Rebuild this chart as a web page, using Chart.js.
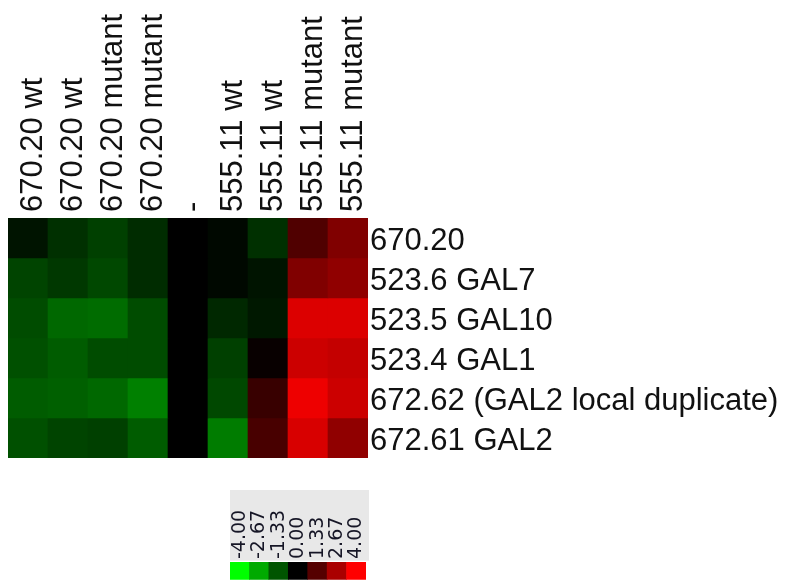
<!DOCTYPE html>
<html>
<head>
<meta charset="utf-8">
<script src="https://cdn.jsdelivr.net/npm/chart.js@4.4.0/dist/chart.umd.min.js"></script>
<style>
    html, body { margin: 0; padding: 0; background: #fff; }
    #wrap { position: relative; width: 796px; height: 582px; overflow: hidden; }
    #heatmap { position: absolute; left: 0; top: 0; }
    #colorScale { position: absolute; left: 230px; top: 488px; }
</style>
</head>
<body>
<div id="wrap">
    <canvas id="heatmap" width="796" height="582"></canvas>
    <canvas id="colorScale" width="142" height="94"></canvas>
</div>
<script>
// Samples (columns) and genes (rows)
const samples = ['670.20 wt', '670.20 wt', '670.20 mutant', '670.20 mutant', '-',
                 '555.11 wt', '555.11 wt', '555.11 mutant', '555.11 mutant'];
const genes = ['670.20', '523.6 GAL7', '523.5 GAL10', '523.4 GAL1',
               '672.62 (GAL2 local duplicate)', '672.61 GAL2'];

// Log ratios per gene, one value per sample
const row670_20 = [-0.31, -0.75, -1.00, -0.69, 0, -0.13, -0.75, 1.25, 2.01];
const rowGAL7   = [-1.07, -0.88, -1.13, -0.69, 0, -0.13, -0.31, 2.01, 2.26];
const rowGAL10  = [-1.19, -1.63, -1.69, -1.19, 0, -0.63, -0.38, 3.45, 3.45];
const rowGAL1   = [-1.25, -1.44, -1.19, -1.19, 0, -1.00, 0.13, 3.20, 3.07];
const row672_62 = [-1.44, -1.51, -1.63, -2.01, 0, -1.13, 0.88, 3.73, 3.20];
const rowGAL2   = [-1.25, -1.07, -1.00, -1.44, 0, -1.95, 1.13, 3.39, 2.26];
const geneRows = [row670_20, rowGAL7, rowGAL10, rowGAL1, row672_62, rowGAL2];

// Colour scale steps
const scaleSteps = [-4.00, -2.67, -1.33, 0.00, 1.33, 2.67, 4.00];
const scaleMax = 4;

const labelFont = { family: 'Liberation Sans, Arial, sans-serif', size: 31 };

function colorFor(v) {
    const level = Math.round(Math.min(Math.abs(v) / scaleMax, 1) * 255);
    return v < 0 ? `rgb(0,${level},0)` : `rgb(${level},0,0)`;
}

// Fix an axis box to an exact size and drop the extra label padding
function fixBox(width, height) {
    return function (scale) {
        if (width !== null) scale.width = width;
        if (height !== null) scale.height = height;
        scale.paddingLeft = 0;
        scale.paddingRight = 0;
        scale.paddingTop = 0;
        scale.paddingBottom = 0;
    };
}

// Grey box behind the colour scale labels
const scaleBackground = {
    id: 'scaleBackground',
    beforeDraw(chart) {
        const x = chart.scales.x;
        const ctx = chart.ctx;
        ctx.save();
        ctx.fillStyle = '#e8e8e8';
        ctx.fillRect(x.left, x.top, x.width + 3, x.height - 1.3);
        ctx.restore();
    }
};

const Heatmap = {
    chart: null,
    legend: null,

    init() {
        this.drawMatrix();
        this.drawScale();
    },

    drawMatrix() {
        const datasets = geneRows.map((vals, i) => ({
            label: genes[i],
            data: vals.map(() => 1),
            backgroundColor: vals.map(colorFor),
            borderWidth: 0,
            barPercentage: 1,
            categoryPercentage: 1,
            stack: 'cells'
        }));

        this.chart = new Chart(document.getElementById('heatmap'), {
            type: 'bar',
            data: { labels: samples, datasets: datasets },
            options: {
                responsive: false,
                animation: false,
                events: [],
                layout: { padding: { left: 8, top: 0, right: 0, bottom: 124 } },
                plugins: { legend: { display: false }, tooltip: { enabled: false } },
                scales: {
                    x: {
                        position: 'top',
                        stacked: true,
                        grid: { display: false, drawTicks: false },
                        border: { display: false },
                        ticks: {
                            autoSkip: false,
                            minRotation: 90,
                            maxRotation: 90,
                            padding: 6,
                            labelOffset: 43,
                            color: '#111',
                            font: labelFont
                        },
                        afterFit: fixBox(null, 218)
                    },
                    y: {
                        display: false,
                        stacked: true,
                        reverse: true,
                        min: 0,
                        max: genes.length
                    },
                    genes: {
                        type: 'category',
                        axis: 'y',
                        position: 'right',
                        labels: genes,
                        offset: true,
                        grid: { display: false, drawTicks: false },
                        border: { display: false },
                        ticks: {
                            autoSkip: false,
                            padding: 2,
                            labelOffset: 3,
                            color: '#111',
                            font: labelFont
                        },
                        afterFit: fixBox(428, null)
                    }
                }
            }
        });
    },

    drawScale() {
        this.legend = new Chart(document.getElementById('colorScale'), {
            type: 'bar',
            data: {
                labels: scaleSteps.map(v => v.toFixed(2)),
                datasets: [{
                    data: scaleSteps.map(() => 1),
                    backgroundColor: scaleSteps.map(colorFor),
                    borderWidth: 0,
                    barPercentage: 1,
                    categoryPercentage: 1
                }]
            },
            options: {
                responsive: false,
                animation: false,
                events: [],
                layout: { padding: { left: 0, top: 2, right: 6, bottom: 2.3 } },
                plugins: { legend: { display: false }, tooltip: { enabled: false } },
                scales: {
                    x: {
                        position: 'top',
                        grid: { display: false, drawTicks: false },
                        border: { display: false },
                        ticks: {
                            autoSkip: false,
                            minRotation: 90,
                            maxRotation: 90,
                            padding: 3,
                            labelOffset: 23,
                            color: '#161626',
                            font: { family: 'DejaVu Sans, sans-serif', size: 19 }
                        },
                        afterFit: fixBox(null, 72)
                    },
                    y: { display: false, min: 0, max: 1 }
                }
            },
            plugins: [scaleBackground]
        });
    }
};

Heatmap.init();
</script>
</body>
</html>
